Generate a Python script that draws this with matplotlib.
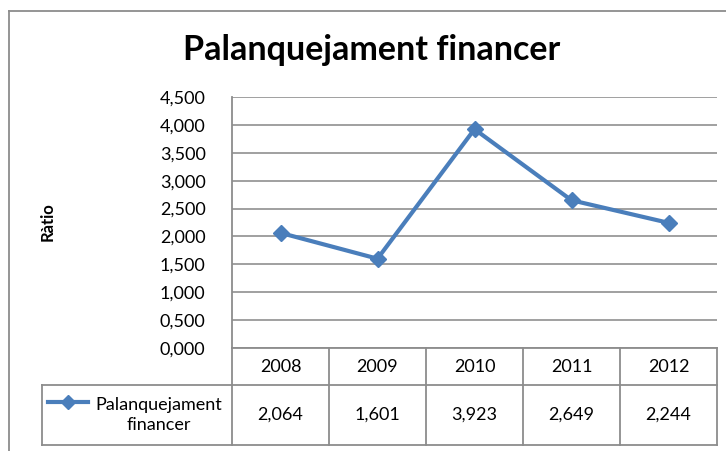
import matplotlib.pyplot as plt
from matplotlib.lines import Line2D
import matplotlib.transforms as mtransforms

years = ['2008', '2009', '2010', '2011', '2012']
values = [2.064, 1.601, 3.923, 2.649, 2.244]
value_labels = ['2,064', '1,601', '3,923', '2,649', '2,244']
yticks = [0, 0.5, 1, 1.5, 2, 2.5, 3, 3.5, 4, 4.5]
series_name = 'Palanquejament\nfinancer'
title = 'Palanquejament financer'

W, H = 726, 451
blue = '#4a7ebb'
gray = '#8c8c8c'
font = 'Lato'
fs = 13


def fx(px):
    return px / W


def fy(py):
    return 1 - py / H


fig = plt.figure(figsize=(7.26, 4.51), dpi=100)
ax = fig.add_axes([fx(232), fy(348), fx(717) - fx(232), fy(97) - fy(348)])

x = list(range(len(years)))
ax.plot(x, values, color=blue, lw=3, marker='D', ms=8, mfc=blue, mec=blue)
ax.set_xlim(-0.5, len(years) - 0.5)
ax.set_ylim(0, 4.5)
ax.set_yticks(yticks)
ax.set_yticklabels([('%.3f' % v).replace('.', ',') for v in yticks],
                   fontsize=fs, family=font)
ax.tick_params(axis='y', length=0, pad=19)
ax.tick_params(axis='x', length=0, labelbottom=False)
ax.grid(axis='y', color='#999999', lw=1.3)
ax.set_axisbelow(True)
for s in ['top', 'right', 'bottom']:
    ax.spines[s].set_visible(False)
ax.spines['left'].set_color(gray)
ax.spines['left'].set_linewidth(1.3)

# outer frame
fig.add_artist(Line2D([fx(9), 1], [fy(11), fy(11)], color=gray, lw=1.3))
fig.add_artist(Line2D([fx(9), fx(9)], [fy(11), 0], color=gray, lw=1.3))

fig.text(fx(372), fy(50), title, ha='center', va='center', fontsize=24.5,
         fontweight='bold', family=font)
fig.text(fx(48), fy(222), 'Ràtio', ha='center', va='center', rotation=90,
         fontsize=12, fontweight='bold', family=font)

# data table
trans = mtransforms.blended_transform_factory(ax.transData, fig.transFigure)
y_top, y_mid, y_bot = fy(348), fy(385), fy(445)
lw = 1.3
fig.add_artist(Line2D([-0.5, len(years) - 0.5], [y_top, y_top], color=gray, lw=lw,
                      transform=trans))
for yy in [y_mid, y_bot]:
    fig.add_artist(Line2D([fx(42), fx(717)], [yy, yy], color=gray, lw=lw))
fig.add_artist(Line2D([fx(42), fx(42)], [y_mid, y_bot], color=gray, lw=lw))
for i in range(len(years) + 1):
    fig.add_artist(Line2D([i - 0.5, i - 0.5], [y_top, y_bot], color=gray, lw=lw,
                          transform=trans))
for i, (yr, lab) in enumerate(zip(years, value_labels)):
    fig.text(i, (y_top + y_mid) / 2, yr, transform=trans, ha='center', va='center',
             fontsize=fs, family=font)
    fig.text(i, (y_mid + y_bot) / 2, lab, transform=trans, ha='center', va='center',
             fontsize=fs, family=font)

fig.add_artist(Line2D([fx(48), fx(88)], [fy(402), fy(402)], color=blue, lw=3))
fig.add_artist(Line2D([fx(68)], [fy(402)], color=blue, marker='D', ms=7, lw=0))
fig.text(fx(159), fy(415), series_name, ha='center', va='center', fontsize=fs,
         family=font, linespacing=1.25)

fig.savefig('out.png', dpi=100)
